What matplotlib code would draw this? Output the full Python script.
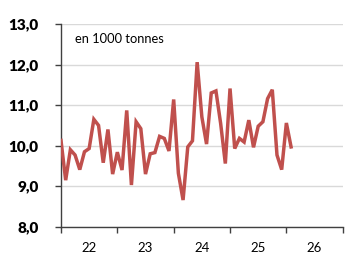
import numpy as np
import matplotlib as mpl
mpl.use('Agg')
import matplotlib.pyplot as plt
from matplotlib.ticker import FixedLocator, NullFormatter, FixedFormatter

# monthly values, Jan 2022 .. Feb 2026 (en 1000 tonnes)
values = [10.13, 9.15, 9.90, 9.77, 9.41, 9.85, 9.93, 10.65, 10.50, 9.58,
          10.40, 9.30, 9.84, 9.40, 10.87, 9.03, 10.59, 10.42, 9.30, 9.80,
          9.83, 10.23, 10.18, 9.87, 11.14, 9.32, 8.66, 9.97, 10.12, 12.06,
          10.71, 10.04, 11.30, 11.35, 10.55, 9.56, 11.41, 9.93, 10.18, 10.09,
          10.63, 9.96, 10.48, 10.59, 11.16, 11.38, 9.77, 9.41, 10.56, 9.97]
year_labels = ['22', '23', '24', '25', '26']
y_ticks = [8, 9, 10, 11, 12, 13]

plt.rcParams['font.family'] = ['Lato', 'DejaVu Sans']

fig = plt.figure(figsize=(3.56, 2.57), dpi=100)
ax = fig.add_axes([0.1713, 0.1175, 0.7914, 0.789])

x = np.arange(len(values))
ax.plot(x, values, color='#C0504D', lw=2.5, solid_joinstyle='miter', zorder=3)

ax.set_xlim(0, 12 * len(year_labels))
ax.set_ylim(8, 13)

ax.set_yticks(y_ticks)
ax.set_yticklabels([f'{v},0' for v in y_ticks], fontsize=11, fontweight='heavy')
ax.yaxis.grid(True, color='#D9D9D9', lw=1)
ax.set_axisbelow(True)

ax.xaxis.set_major_locator(FixedLocator([12 * i for i in range(len(year_labels) + 1)]))
ax.xaxis.set_major_formatter(NullFormatter())
ax.xaxis.set_minor_locator(FixedLocator([12 * i + 6 for i in range(len(year_labels))]))
ax.xaxis.set_minor_formatter(FixedFormatter(year_labels))
ax.tick_params(axis='x', which='major', length=4, width=1, color='#404040', direction='out')
ax.tick_params(axis='x', which='minor', length=0, labelsize=9.5, pad=11)
ax.tick_params(axis='y', length=4, width=1, color='#404040', pad=12)

for s in ['top', 'right']:
    ax.spines[s].set_visible(False)
for s in ['left', 'bottom']:
    ax.spines[s].set_color('#404040')
    ax.spines[s].set_linewidth(1)

ax.text(0.05, 0.925, 'en 1000 tonnes', transform=ax.transAxes, fontsize=9.3,
        ha='left', va='center')

fig.savefig('out.png', dpi=100)
